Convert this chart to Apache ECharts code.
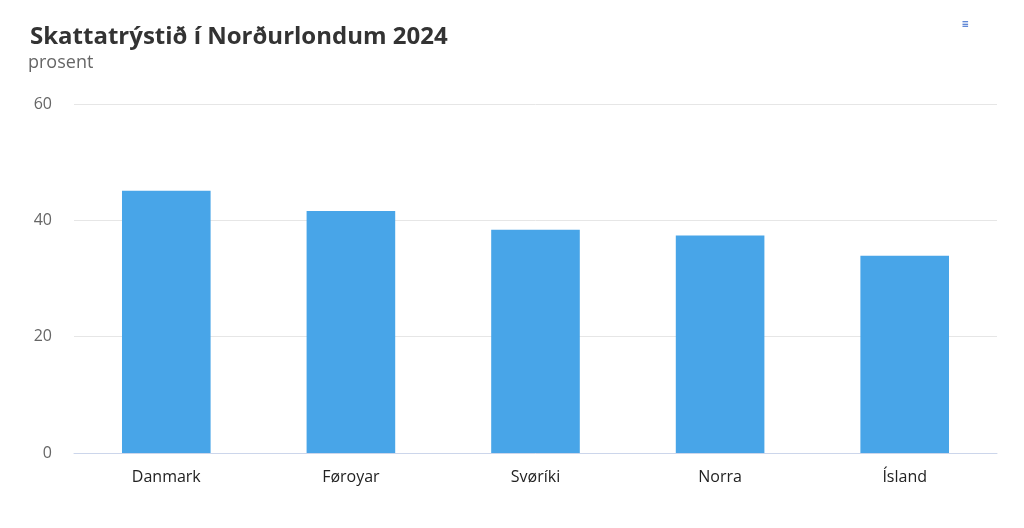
<!DOCTYPE html>
<html><head><meta charset="utf-8">
<script src="https://cdn.jsdelivr.net/npm/echarts@6/dist/echarts.min.js"></script>
<style>html,body{margin:0;padding:0;background:#fff}#c{width:1024px;height:528px}</style>
</head><body><div id="c"></div>
<script>
const categories = ['Danmark', 'Føroyar', 'Svøríki', 'Norra', 'Ísland'];
const values = [45.1, 41.6, 38.4, 37.4, 33.9];
const yTicks = [0, 20, 40, 60];
const titleText = 'Skattatrýstið í Norðurlondum 2024';
const subtitleText = 'prosent';

const chart = echarts.init(document.getElementById('c'));
chart.setOption({
  animation: false,
  textStyle: { fontFamily: 'Open Sans' },
  title: [{
    text: titleText, left: 25, top: 17,
    textStyle: { fontFamily: 'Open Sans', fontWeight: 'bold', fontSize: 24, color: '#333', lineHeight: 30 }
  }, {
    text: subtitleText, left: 23, top: 46,
    textStyle: { fontFamily: 'Open Sans', fontWeight: 'normal', fontSize: 18, color: '#666', lineHeight: 24 }
  }],
  graphic: [{ type: 'text', left: 962, top: 19, style: { text: '≡', fill: '#3366cc', font: 'bold 12px Open Sans' } }],
  grid: { left: 74, right: 27, top: 104, bottom: 75 },
  xAxis: {
    type: 'category', data: categories,
    axisLine: { lineStyle: { color: '#ccd6eb' } },
    axisTick: { show: false },
    axisLabel: { color: '#222', fontSize: 16, margin: 16, fontFamily: 'Open Sans' }
  },
  yAxis: {
    type: 'value', min: yTicks[0], max: yTicks[yTicks.length - 1], interval: 20,
    axisLine: { show: false }, axisTick: { show: false },
    splitLine: { lineStyle: { color: '#e6e6e6' } },
    axisLabel: { color: '#666', fontSize: 16, margin: 22, fontFamily: 'Open Sans' }
  },
  series: [{
    type: 'bar', data: values, barWidth: '48%',
    itemStyle: { color: '#48a5e8' }
  }]
});
</script></body></html>
